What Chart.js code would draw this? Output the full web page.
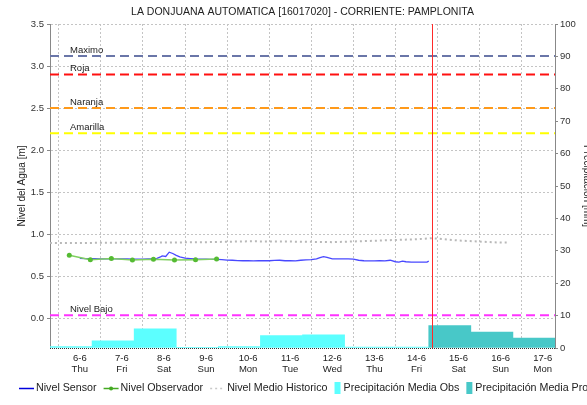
<!DOCTYPE html>
<html>
<head>
<meta charset="utf-8">
<title>LA DONJUANA AUTOMATICA [16017020]</title>
<script src="https://cdn.jsdelivr.net/npm/chart.js@4.4.0/dist/chart.umd.min.js"></script>
<style>
  html, body { margin: 0; padding: 0; background: #fff; }
  #nivelChart { display: block; }
</style>
</head>
<body>
<canvas id="nivelChart" width="587" height="405"></canvas>
<script>
/* global Chart */

// Eje x en dias de junio (5 + 7/24 = 5-6 a las 07:00)
const inicio = 5 + 7 / 24;
const fin = 17 + 7 / 24;
const ahora = 14 + 9 / 24;

const diasTicks = [6, 7, 8, 9, 10, 11, 12, 13, 14, 15, 16, 17];
const etiquetasDia = ['6-6', '7-6', '8-6', '9-6', '10-6', '11-6', '12-6', '13-6', '14-6', '15-6', '16-6', '17-6'];
const etiquetasSemana = ['Thu', 'Fri', 'Sat', 'Sun', 'Mon', 'Tue', 'Wed', 'Thu', 'Fri', 'Sat', 'Sun', 'Mon'];

const ticksNivel = [0, 0.5, 1, 1.5, 2, 2.5, 3, 3.5];
const ticksPrecip = [0, 10, 20, 30, 40, 50, 60, 70, 80, 90, 100];

// Nivel Sensor (horas desde 6-6 00:00)
const horasSensor = [0, 3, 6, 9, 12, 15, 18, 21, 24, 27, 30, 33, 36, 39, 42, 44, 46, 47, 49, 51, 53, 55, 57, 60,
  63, 66, 69, 72, 75, 78, 81, 84, 87, 90, 93, 96, 99, 102, 105, 108, 111, 114, 117, 120, 123, 126, 129, 132,
  135, 137, 139, 141, 144, 147, 150, 153, 156, 159, 162, 165, 168, 171, 174, 177, 180, 182, 184, 186, 189,
  192, 195, 198, 199];
const nivelSensor = [0.712, 0.710, 0.708, 0.708, 0.707, 0.707, 0.706, 0.706, 0.705, 0.705, 0.704, 0.704, 0.704,
  0.705, 0.706, 0.712, 0.730, 0.742, 0.735, 0.786, 0.770, 0.748, 0.730, 0.716,
  0.710, 0.705, 0.703, 0.702, 0.701, 0.700, 0.698, 0.692, 0.690, 0.686, 0.684, 0.686, 0.682, 0.684, 0.686,
  0.684, 0.688, 0.690, 0.684, 0.686, 0.682, 0.690, 0.694, 0.698,
  0.706, 0.722, 0.733, 0.725, 0.706, 0.706, 0.706, 0.705, 0.704, 0.690, 0.684, 0.682, 0.682, 0.684, 0.683,
  0.690, 0.672, 0.668, 0.680, 0.672, 0.668, 0.668, 0.667, 0.668, 0.680];

// Nivel Observador (horas desde 6-6 00:00)
const horasObservador = [-6, 6, 18, 30, 42, 54, 66, 78];
const nivelObservador = [0.748, 0.697, 0.712, 0.692, 0.703, 0.694, 0.697, 0.705];

// Nivel Medio Historico (dia de junio)
const diasHistorico = [5.29, 6, 7, 8, 9, 10, 11, 12, 13, 14, 14.38, 15, 16, 16.17];
const nivelHistorico = [0.895, 0.895, 0.900, 0.900, 0.905, 0.915, 0.912, 0.905, 0.922, 0.940, 0.952, 0.925, 0.900, 0.900];

// Precipitacion diaria (07:00 a 07:00), dia de inicio
const diasPrecipObs = [5, 6, 7, 8, 9, 10, 11, 12, 13];
const precipObs = [0.4, 2.25, 5.9, 0.2, 0.4, 3.8, 4.1, 0.3, 0.3];
const diasPrecipPro = [14, 15, 16];
const precipPro = [6.9, 4.9, 3.1];

// Umbrales
const umbralesNombres = ['Maximo', 'Roja', 'Naranja', 'Amarilla', 'Nivel Bajo'];
const umbralesValores = [3.12, 2.90, 2.50, 2.20, 0.035];
const umbralesColores = ['#6a76a8', '#ff1010', '#ff9a1a', '#ffff00', '#ff33ff'];

const fuente = '"Liberation Sans", Arial, sans-serif';
const centroDia = d => d + 7 / 24 + 0.5;

const datasets = [
    {
        label: 'Nivel Observador',
        data: horasObservador.map((h, i) => ({ x: 6 + h / 24, y: nivelObservador[i] })),
        borderColor: '#80d060',
        backgroundColor: '#55bb33',
        pointBackgroundColor: '#55bb33',
        pointBorderWidth: 0,
        pointRadius: 2.5,
        borderWidth: 1.5,
        order: 0
    },
    {
        label: 'Nivel Sensor',
        data: horasSensor.map((h, i) => ({ x: 6 + h / 24, y: nivelSensor[i] })),
        borderColor: '#4848ff',
        borderWidth: 1.3,
        pointRadius: 0,
        order: 1
    },
    {
        label: 'Nivel Medio Historico',
        data: diasHistorico.map((d, i) => ({ x: d, y: nivelHistorico[i] })),
        borderColor: '#b8b8b8',
        borderWidth: 2,
        borderDash: [2, 3],
        pointRadius: 0,
        order: 2
    }
];

umbralesNombres.forEach((nombre, i) => {
    datasets.push({
        label: nombre,
        data: [{ x: inicio, y: umbralesValores[i] }, { x: fin, y: umbralesValores[i] }],
        borderColor: umbralesColores[i],
        borderWidth: 2,
        borderDash: [9, 5],
        pointRadius: 0,
        order: 3
    });
});

datasets.push({
    type: 'bar',
    label: 'Precipitación Media Obs',
    data: diasPrecipObs.map((d, i) => ({ x: centroDia(d), y: precipObs[i] })),
    backgroundColor: '#5cffff',
    yAxisID: 'y1',
    grouped: false,
    barPercentage: 1,
    categoryPercentage: 1,
    order: 5
});
datasets.push({
    type: 'bar',
    label: 'Precipitación Media Pro',
    data: diasPrecipPro.map((d, i) => ({ x: centroDia(d), y: precipPro[i] })),
    backgroundColor: '#48c8c8',
    yAxisID: 'y1',
    grouped: false,
    barPercentage: 1,
    categoryPercentage: 1,
    order: 5
});

// Elementos de la leyenda (abajo)
const leyenda = [
    { texto: 'Nivel Sensor', tipo: 'linea', color: '#0000dd' },
    { texto: 'Nivel Observador', tipo: 'punto', color: '#44aa22' },
    { texto: 'Nivel Medio Historico', tipo: 'trazos', color: '#c8c8c8' },
    { texto: 'Precipitación Media Obs', tipo: 'caja', color: '#5cffff' },
    { texto: 'Precipitación Media Pro', tipo: 'caja', color: '#48c8c8' }
];

const extras = {
    id: 'extras',
    afterDatasetsDraw(chart) {
        const { ctx, chartArea: a, scales } = chart;
        ctx.save();
        // nombres de umbrales
        ctx.font = '9.5px ' + fuente;
        ctx.fillStyle = '#222';
        ctx.textBaseline = 'bottom';
        umbralesNombres.forEach((n, i) => {
            const y = scales.y.getPixelForValue(umbralesValores[i]);
            ctx.fillText(n, a.left + 20, y - 1);
        });
        // linea vertical de "ahora"
        const xa = Math.round(scales.x.getPixelForValue(ahora)) + 0.5;
        ctx.strokeStyle = '#ff2a2a';
        ctx.lineWidth = 1;
        ctx.beginPath();
        ctx.moveTo(xa, a.top);
        ctx.lineTo(xa, a.bottom);
        ctx.stroke();
        // borde inferior punteado
        ctx.strokeStyle = '#333';
        ctx.setLineDash([1, 1]);
        ctx.beginPath();
        ctx.moveTo(a.left, Math.round(a.bottom) + 0.5);
        ctx.lineTo(a.right, Math.round(a.bottom) + 0.5);
        ctx.stroke();
        ctx.restore();
    },
    afterDraw(chart) {
        const ctx = chart.ctx;
        const y = chart.height - 17;
        let x = 19;
        ctx.save();
        ctx.font = '10.7px ' + fuente;
        ctx.textBaseline = 'middle';
        leyenda.forEach(item => {
            ctx.strokeStyle = item.color;
            ctx.fillStyle = item.color;
            if (item.tipo === 'caja') {
                ctx.fillRect(x, y - 6, 6, 12);
                x += 9;
            } else {
                ctx.lineWidth = 1.5;
                ctx.setLineDash(item.tipo === 'trazos' ? [2, 3] : []);
                ctx.beginPath();
                ctx.moveTo(x, y + 0.5);
                ctx.lineTo(x + 15, y + 0.5);
                ctx.stroke();
                ctx.setLineDash([]);
                if (item.tipo === 'punto') {
                    ctx.beginPath();
                    ctx.arc(x + 7.5, y + 0.5, 2, 0, Math.PI * 2);
                    ctx.fill();
                }
                x += 17;
            }
            ctx.fillStyle = '#222';
            ctx.fillText(item.texto, x, y);
            x += ctx.measureText(item.texto).width + 7;
        });
        ctx.restore();
    }
};

const ctx = document.getElementById('nivelChart').getContext('2d');
const nivelChart = new Chart(ctx, {
    type: 'line',
    data: { datasets: datasets },
    plugins: [extras],
    options: {
        responsive: false,
        animation: false,
        events: [],
        layout: { padding: { left: 0, right: 0, top: 0, bottom: 24 } },
        plugins: {
            legend: { display: false },
            tooltip: { enabled: false },
            title: {
                display: true,
                text: 'LA DONJUANA AUTOMATICA [16017020] - CORRIENTE: PAMPLONITA',
                fullSize: false,
                color: '#222',
                font: { family: fuente, size: 10.5, weight: 'normal' },
                padding: { top: 6, bottom: 5.4 }
            }
        },
        scales: {
            x: {
                type: 'linear',
                min: inicio,
                max: fin,
                offset: false,
                afterBuildTicks: s => { s.ticks = diasTicks.map(v => ({ value: v })); },
                afterFit: s => { s.height = 33; },
                ticks: {
                    autoSkip: false,
                    maxRotation: 0,
                    padding: 4,
                    color: '#222',
                    font: { family: fuente, size: 9.5, lineHeight: 1.25 },
                    callback: (v, i) => [etiquetasDia[i], etiquetasSemana[i]]
                },
                grid: { color: '#c4c4c4', drawTicks: false },
                border: { display: false, dash: [2, 2] }
            },
            y: {
                position: 'left',
                min: -0.354,
                max: 3.5,
                afterBuildTicks: s => { s.ticks = ticksNivel.map(v => ({ value: v })); },
                afterFit: s => { s.width = 50; },
                ticks: {
                    padding: 3,
                    color: '#333',
                    font: { family: fuente, size: 9.5 },
                    callback: v => v.toFixed(1)
                },
                grid: { color: '#c4c4c4', tickLength: 3, tickColor: '#888' },
                border: { color: '#888', dash: [2, 2] },
                title: {
                    display: true,
                    text: 'Nivel del Agua [m]',
                    color: '#222',
                    font: { family: fuente, size: 10 },
                    padding: { top: 16, bottom: 0 }
                }
            },
            y1: {
                position: 'right',
                min: 0,
                max: 100,
                afterBuildTicks: s => { s.ticks = ticksPrecip.map(v => ({ value: v })); },
                afterFit: s => { s.width = 32; },
                ticks: {
                    padding: 2,
                    color: '#333',
                    font: { family: fuente, size: 9.5 }
                },
                grid: { drawOnChartArea: false, tickLength: 3, color: '#888' },
                border: { color: '#888' },
                title: {
                    display: true,
                    text: 'Precipitación [mm]',
                    color: '#222',
                    font: { family: fuente, size: 10 },
                    padding: { top: -6, bottom: 0 }
                }
            }
        }
    }
});
</script>
</body>
</html>
